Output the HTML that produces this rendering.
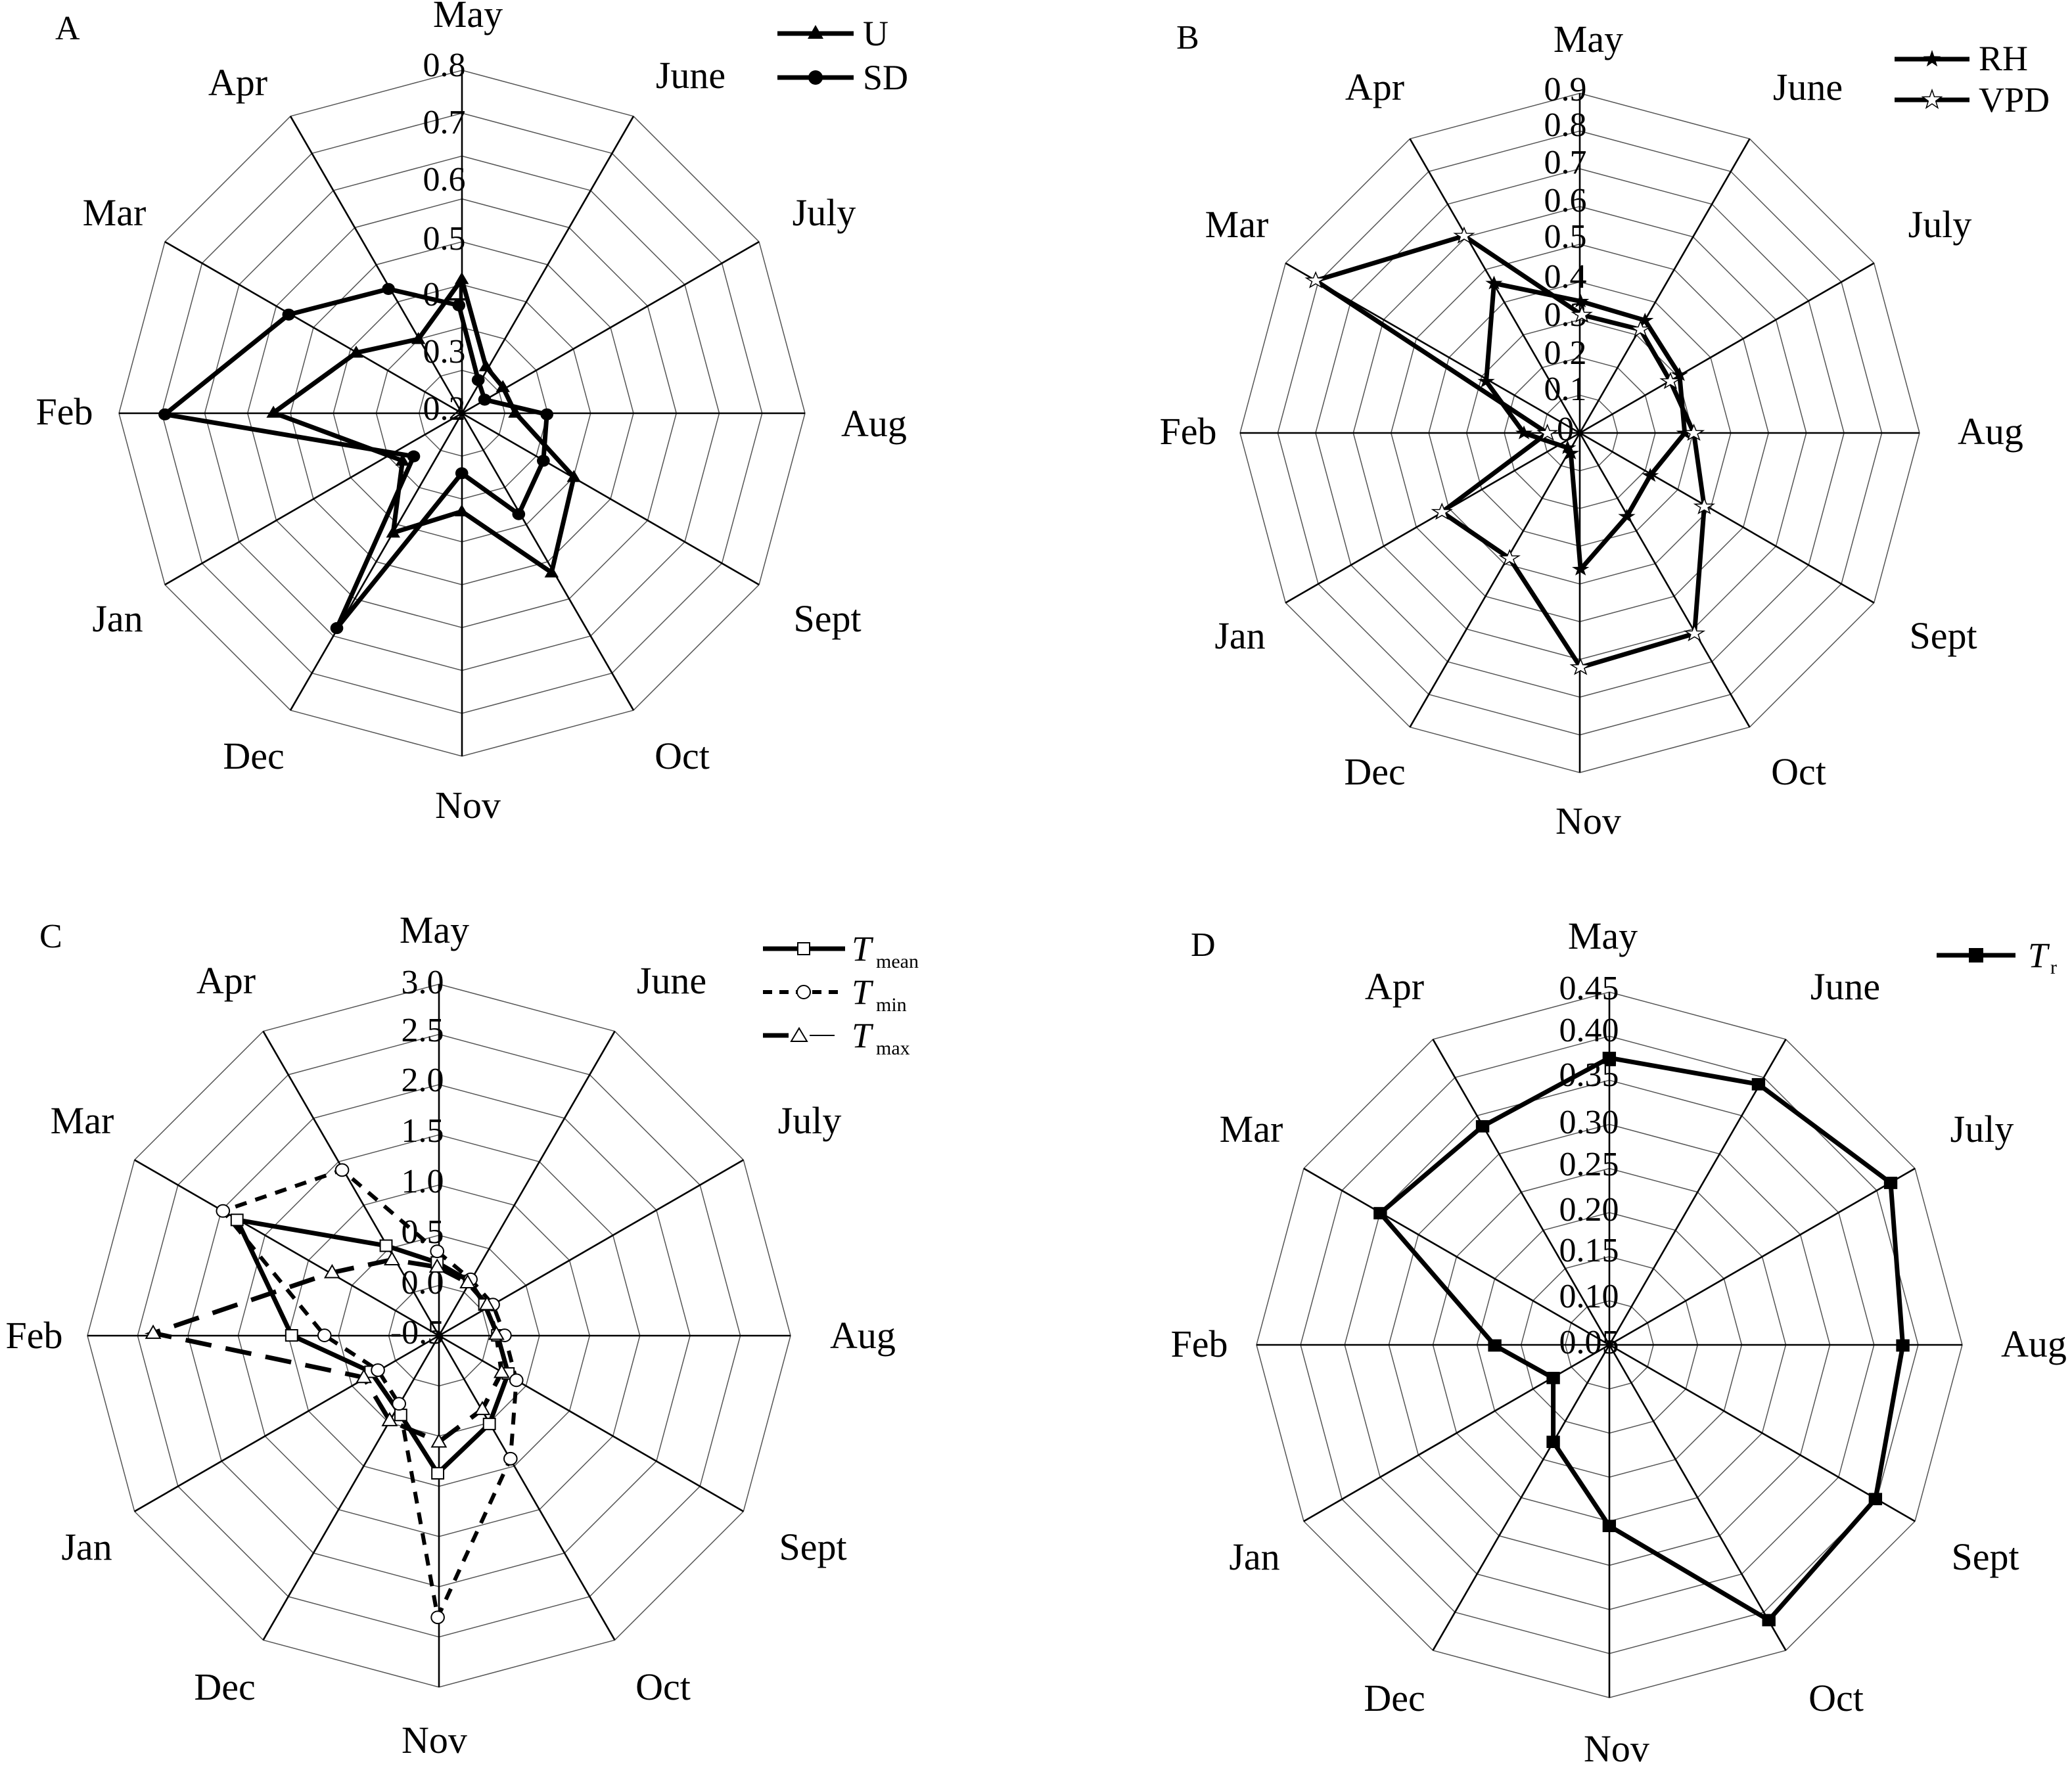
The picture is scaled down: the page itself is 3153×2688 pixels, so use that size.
<!DOCTYPE html>
<html><head><meta charset="utf-8"><style>
html,body{margin:0;padding:0;background:#fff;}
svg{display:block;}
text{font-family:"Liberation Serif",serif;fill:#000;}
.m{font-size:58px;text-anchor:middle;}
.s{font-size:52px;text-anchor:middle;fill:#222;}
.p{font-size:52px;}
.lg{font-size:54px;}
</style></head><body>
<svg width="3153" height="2688" viewBox="0 0 3153 2688" xmlns="http://www.w3.org/2000/svg">
<defs>
<polygon id="dod" points="0,-1 0.5,-0.866 0.866,-0.5 1,0 0.866,0.5 0.5,0.866 0,1 -0.5,0.866 -0.866,0.5 -1,0 -0.866,-0.5 -0.5,-0.866" fill="none" stroke="#555" stroke-width="1.5" vector-effect="non-scaling-stroke"/>
<g id="axes" stroke="#000" stroke-width="2.6" vector-effect="non-scaling-stroke">
<line x1="0" y1="-1" x2="0" y2="1" vector-effect="non-scaling-stroke"/>
<line x1="0.5" y1="-0.866" x2="-0.5" y2="0.866" vector-effect="non-scaling-stroke"/>
<line x1="0.866" y1="-0.5" x2="-0.866" y2="0.5" vector-effect="non-scaling-stroke"/>
<line x1="1" y1="0" x2="-1" y2="0" vector-effect="non-scaling-stroke"/>
<line x1="0.866" y1="0.5" x2="-0.866" y2="-0.5" vector-effect="non-scaling-stroke"/>
<line x1="0.5" y1="0.866" x2="-0.5" y2="-0.866" vector-effect="non-scaling-stroke"/>
</g>
<polygon id="tri" points="0,-13 12,9 -12,9" fill="#000"/>
<circle id="cir" r="11" fill="#000"/>
<polygon id="starF" points="0,-14 3.3,-4.5 13.3,-4.3 5.3,1.7 8.2,11.3 0,5.6 -8.2,11.3 -5.3,1.7 -13.3,-4.3 -3.3,-4.5" fill="#000"/>
<polygon id="starO" points="0,-15 3.5,-4.8 14.3,-4.6 5.7,1.8 8.8,12.1 0,6 -8.8,12.1 -5.7,1.8 -14.3,-4.6 -3.5,-4.8" fill="#fff" stroke="#000" stroke-width="1.5" vector-effect="non-scaling-stroke"/>
<rect id="sqO" x="-10" y="-10" width="20" height="20" fill="#fff" stroke="#000" stroke-width="2" vector-effect="non-scaling-stroke"/>
<circle id="cirO" r="11" fill="#fff" stroke="#000" stroke-width="2" vector-effect="non-scaling-stroke"/>
<polygon id="triO" points="0,-13 12,9 -12,9" fill="#fff" stroke="#000" stroke-width="2" vector-effect="non-scaling-stroke"/>
<rect id="sqF" x="-11" y="-11" width="22" height="22" fill="#000"/>
</defs>

<!-- ===== Panel A grid ===== -->
<g transform="translate(703,629)">
<use href="#dod" transform="scale(65.25)"/><use href="#dod" transform="scale(130.5)"/><use href="#dod" transform="scale(195.75)"/><use href="#dod" transform="scale(261)"/>
<use href="#dod" transform="scale(326.25)"/><use href="#dod" transform="scale(391.5)"/><use href="#dod" transform="scale(456.75)"/><use href="#dod" transform="scale(522)"/>
<use href="#axes" transform="scale(522)"/>
</g>
<!-- ===== Panel B grid ===== -->
<g transform="translate(2404,659)">
<use href="#dod" transform="scale(57.44)"/><use href="#dod" transform="scale(114.9)"/><use href="#dod" transform="scale(172.3)"/><use href="#dod" transform="scale(229.8)"/>
<use href="#dod" transform="scale(287.2)"/><use href="#dod" transform="scale(344.7)"/><use href="#dod" transform="scale(402.1)"/><use href="#dod" transform="scale(459.6)"/><use href="#dod" transform="scale(517)"/>
<use href="#axes" transform="scale(517)"/>
</g>
<!-- ===== Panel C grid ===== -->
<g transform="translate(668,2033)">
<use href="#dod" transform="scale(76.43)"/><use href="#dod" transform="scale(152.9)"/><use href="#dod" transform="scale(229.3)"/><use href="#dod" transform="scale(305.7)"/>
<use href="#dod" transform="scale(382.1)"/><use href="#dod" transform="scale(458.6)"/><use href="#dod" transform="scale(535)"/>
<use href="#axes" transform="scale(535)"/>
</g>
<!-- ===== Panel D grid ===== -->
<g transform="translate(2449,2047)">
<use href="#dod" transform="scale(67.1)"/><use href="#dod" transform="scale(134.3)"/><use href="#dod" transform="scale(201.4)"/><use href="#dod" transform="scale(268.5)"/>
<use href="#dod" transform="scale(335.6)"/><use href="#dod" transform="scale(402.8)"/><use href="#dod" transform="scale(469.9)"/><use href="#dod" transform="scale(537)"/>
<use href="#axes" transform="scale(537)"/>
</g>

<!-- ===== Scale labels ===== -->
<g class="s">
<text x="676" y="116">0.8</text><text x="676" y="203">0.7</text><text x="676" y="290">0.6</text><text x="676" y="380">0.5</text>
<text x="676" y="465">0.4</text><text x="676" y="552">0.3</text><text x="676" y="639">0.2</text>
<text x="2382" y="153">0.9</text><text x="2382" y="207">0.8</text><text x="2382" y="264">0.7</text><text x="2382" y="322">0.6</text>
<text x="2382" y="377">0.5</text><text x="2382" y="438">0.4</text><text x="2382" y="496">0.3</text><text x="2382" y="554">0.2</text>
<text x="2382" y="609">0.1</text><text x="2382" y="670">0</text>
<text x="643" y="1512">3.0</text><text x="643" y="1585">2.5</text><text x="643" y="1661">2.0</text><text x="643" y="1738">1.5</text>
<text x="643" y="1815">1.0</text><text x="643" y="1892">0.5</text><text x="643" y="1969">0.0</text><text x="635" y="2045">-0.5</text>
<text x="2418" y="1521">0.45</text><text x="2418" y="1585">0.40</text><text x="2418" y="1653">0.35</text><text x="2418" y="1725">0.30</text>
<text x="2418" y="1789">0.25</text><text x="2418" y="1858">0.20</text><text x="2418" y="1920">0.15</text><text x="2418" y="1990">0.10</text><text x="2418" y="2060">0.05</text>
</g>

<!-- ===== Month labels ===== -->
<g class="m">
<text x="712" y="41">May</text><text x="1051" y="134">June</text><text x="1254" y="343">July</text><text x="1330" y="664">Aug</text>
<text x="1259" y="961">Sept</text><text x="1038" y="1170">Oct</text><text x="712" y="1245">Nov</text><text x="386" y="1170">Dec</text>
<text x="179" y="961">Jan</text><text x="98" y="646">Feb</text><text x="174" y="343">Mar</text><text x="362" y="145">Apr</text>

<text x="2417" y="79">May</text><text x="2751" y="152">June</text><text x="2952" y="361">July</text><text x="3029" y="676">Aug</text>
<text x="2957" y="987">Sept</text><text x="2737" y="1194">Oct</text><text x="2417" y="1269">Nov</text><text x="2092" y="1194">Dec</text>
<text x="1887" y="987">Jan</text><text x="1808" y="676">Feb</text><text x="1882" y="361">Mar</text><text x="2092" y="152">Apr</text>

<text x="661" y="1435">May</text><text x="1022" y="1512">June</text><text x="1232" y="1725">July</text><text x="1313" y="2052">Aug</text>
<text x="1237" y="2374">Sept</text><text x="1009" y="2587">Oct</text><text x="661" y="2668">Nov</text><text x="342" y="2587">Dec</text>
<text x="132" y="2374">Jan</text><text x="52" y="2052">Feb</text><text x="125" y="1725">Mar</text><text x="344" y="1512">Apr</text>

<text x="2439" y="1444">May</text><text x="2808" y="1521">June</text><text x="3016" y="1738">July</text><text x="3095" y="2065">Aug</text>
<text x="3021" y="2389">Sept</text><text x="2794" y="2604">Oct</text><text x="2460" y="2681">Nov</text><text x="2122" y="2604">Dec</text>
<text x="1909" y="2389">Jan</text><text x="1825" y="2065">Feb</text><text x="1904" y="1738">Mar</text><text x="2122" y="1521">Apr</text>
</g>

<!-- panel letters -->
<text class="p" x="84" y="60">A</text>
<text class="p" x="1790" y="74">B</text>
<text class="p" x="60" y="1442">C</text>
<text class="p" x="1812" y="1455">D</text>

<!-- ===== Data A ===== -->
<g transform="translate(0,0) scale(0.8929,0.8299)">
<polyline points="787,512 828,672 857,710 878,757 978,875 940,1050 787,938 670,977 686,845 466,757 607,647 713,622 787,512" fill="none" stroke="#000" stroke-width="7" stroke-linejoin="round" vector-effect="non-scaling-stroke"/>
<polyline points="782,560 815,697 826,733 932,760 926,845 884,943 787,868 574,1152 705,837 281,760 492,577 662,530 782,560" fill="none" stroke="#000" stroke-width="7" stroke-linejoin="round" vector-effect="non-scaling-stroke"/>
<use href="#tri" x="787" y="512"/><use href="#tri" x="828" y="672"/><use href="#tri" x="857" y="710"/><use href="#tri" x="878" y="757"/>
<use href="#tri" x="978" y="875"/><use href="#tri" x="940" y="1050"/><use href="#tri" x="787" y="938"/><use href="#tri" x="670" y="977"/>
<use href="#tri" x="686" y="845"/><use href="#tri" x="466" y="757"/><use href="#tri" x="607" y="647"/><use href="#tri" x="713" y="622"/>
<use href="#cir" x="782" y="560"/><use href="#cir" x="815" y="697"/><use href="#cir" x="826" y="733"/><use href="#cir" x="932" y="760"/>
<use href="#cir" x="926" y="845"/><use href="#cir" x="884" y="943"/><use href="#cir" x="787" y="868"/><use href="#cir" x="574" y="1152"/>
<use href="#cir" x="705" y="837"/><use href="#cir" x="281" y="760"/><use href="#cir" x="492" y="577"/><use href="#cir" x="662" y="530"/>
</g>

<!-- ===== Data B ===== -->
<g transform="translate(1600,0) scale(0.9904,0.8292)">
<polyline points="813,553 912,588 965,688 973,795 920,873 884,948 813,1045 798,832 793,822 726,795 668,700 680,520 813,553" fill="none" stroke="#000" stroke-width="7" stroke-linejoin="round" vector-effect="non-scaling-stroke"/>
<polyline points="815,578 905,605 951,700 987,795 1003,930 988,1163 813,1225 704,1025 600,940 762,795 406,515 634,433 815,578" fill="none" stroke="#000" stroke-width="7" stroke-linejoin="round" vector-effect="non-scaling-stroke"/>
<use href="#starF" x="813" y="553"/><use href="#starF" x="912" y="588"/><use href="#starF" x="965" y="688"/><use href="#starF" x="973" y="795"/>
<use href="#starF" x="920" y="873"/><use href="#starF" x="884" y="948"/><use href="#starF" x="813" y="1045"/><use href="#starF" x="798" y="832"/>
<use href="#starF" x="793" y="822"/><use href="#starF" x="726" y="795"/><use href="#starF" x="668" y="700"/><use href="#starF" x="680" y="520"/>
<use href="#starO" x="815" y="578"/><use href="#starO" x="905" y="605"/><use href="#starO" x="951" y="700"/><use href="#starO" x="987" y="795"/>
<use href="#starO" x="1003" y="930"/><use href="#starO" x="988" y="1163"/><use href="#starO" x="813" y="1225"/><use href="#starO" x="704" y="1025"/>
<use href="#starO" x="600" y="940"/><use href="#starO" x="762" y="795"/><use href="#starO" x="406" y="515"/><use href="#starO" x="634" y="433"/>
</g>

<!-- ===== Data C ===== -->
<g transform="translate(0,1350) scale(0.8929,0.8532)">
<polyline points="745,670 800,703 826,745 848,800 866,868 834,958 746,1046 683,942 632,865 497,800 404,594 658,640 745,670" fill="none" stroke="#000" stroke-width="7" stroke-linejoin="round" vector-effect="non-scaling-stroke"/>
<polyline points="745,650 802,700 840,745 860,800 880,880 870,1020 746,1303 680,922 644,862 553,800 380,578 583,505 745,650" fill="none" stroke="#000" stroke-width="6" stroke-dasharray="18,14" vector-effect="non-scaling-stroke"/>
<polyline points="745,678 797,706 830,745 846,798 855,866 822,932 748,990 664,952 620,875 261,796 566,688 668,665 745,678" fill="none" stroke="#000" stroke-width="7" stroke-dasharray="40,22" vector-effect="non-scaling-stroke"/>
<use href="#sqO" x="745" y="670"/><use href="#sqO" x="800" y="703"/><use href="#sqO" x="826" y="745"/><use href="#sqO" x="848" y="800"/>
<use href="#sqO" x="866" y="868"/><use href="#sqO" x="834" y="958"/><use href="#sqO" x="746" y="1046"/><use href="#sqO" x="683" y="942"/>
<use href="#sqO" x="632" y="865"/><use href="#sqO" x="497" y="800"/><use href="#sqO" x="404" y="594"/><use href="#sqO" x="658" y="640"/>
<use href="#cirO" x="745" y="650"/><use href="#cirO" x="802" y="700"/><use href="#cirO" x="840" y="745"/><use href="#cirO" x="860" y="800"/>
<use href="#cirO" x="880" y="880"/><use href="#cirO" x="870" y="1020"/><use href="#cirO" x="746" y="1303"/><use href="#cirO" x="680" y="922"/>
<use href="#cirO" x="644" y="862"/><use href="#cirO" x="553" y="800"/><use href="#cirO" x="380" y="578"/><use href="#cirO" x="583" y="505"/>
<use href="#triO" x="745" y="678"/><use href="#triO" x="797" y="706"/><use href="#triO" x="830" y="745"/><use href="#triO" x="846" y="798"/>
<use href="#triO" x="855" y="866"/><use href="#triO" x="822" y="932"/><use href="#triO" x="748" y="990"/><use href="#triO" x="664" y="952"/>
<use href="#triO" x="620" y="875"/><use href="#triO" x="261" y="796"/><use href="#triO" x="566" y="688"/><use href="#triO" x="668" y="665"/>
</g>

<!-- ===== Data D ===== -->
<g transform="translate(1700,1350) scale(0.9268,0.8532)">
<polyline points="808,305 1053,352 1270,528 1290,818 1245,1092 1070,1308 808,1140 716,990 716,876 620,818 432,582 600,427 808,305" fill="none" stroke="#000" stroke-width="7" stroke-linejoin="round" vector-effect="non-scaling-stroke"/>
<use href="#sqF" x="808" y="305"/><use href="#sqF" x="1053" y="352"/><use href="#sqF" x="1270" y="528"/><use href="#sqF" x="1290" y="818"/>
<use href="#sqF" x="1245" y="1092"/><use href="#sqF" x="1070" y="1308"/><use href="#sqF" x="808" y="1140"/><use href="#sqF" x="716" y="990"/>
<use href="#sqF" x="716" y="876"/><use href="#sqF" x="620" y="818"/><use href="#sqF" x="432" y="582"/><use href="#sqF" x="600" y="427"/>
</g>

<!-- ===== Legends ===== -->
<g stroke="#000" stroke-width="7">
<line x1="1183" y1="51" x2="1299" y2="51"/><line x1="1183" y1="118" x2="1299" y2="118"/>
<line x1="2883" y1="90" x2="2997" y2="90"/><line x1="2883" y1="152" x2="2997" y2="152"/>
<line x1="1161" y1="1444" x2="1286" y2="1444"/>
<line x1="1161" y1="1510" x2="1286" y2="1510" stroke-width="6" stroke-dasharray="14,11"/>
<line x1="1161" y1="1576" x2="1200" y2="1576"/>
<line x1="1232" y1="1576" x2="1270" y2="1576" stroke-width="2"/>
<line x1="2947" y1="1454" x2="3067" y2="1454"/>
</g>
<polygon points="1241,38 1253,59 1229,59" fill="#000"/>
<circle cx="1241" cy="118" r="11" fill="#000"/>
<g transform="translate(2940,90)"><polygon points="0,-14 3.3,-4.5 13.3,-4.3 5.3,1.7 8.2,11.3 0,5.6 -8.2,11.3 -5.3,1.7 -13.3,-4.3 -3.3,-4.5" fill="#000"/></g>
<g transform="translate(2940,152)"><polygon points="0,-15 3.5,-4.8 14.3,-4.6 5.7,1.8 8.8,12.1 0,6 -8.8,12.1 -5.7,1.8 -14.3,-4.6 -3.5,-4.8" fill="#fff" stroke="#000" stroke-width="1.5"/></g>
<rect x="1214" y="1435" width="18" height="18" fill="#fff" stroke="#000" stroke-width="2"/>
<circle cx="1223" cy="1510" r="10" fill="#fff" stroke="#000" stroke-width="2"/>
<polygon points="1216,1565 1228,1585 1204,1585" fill="#fff" stroke="#000" stroke-width="2"/>
<rect x="2996" y="1443" width="22" height="22" fill="#000"/>

<text class="lg" x="1313" y="69">U</text>
<text class="lg" x="1313" y="136">SD</text>
<text class="lg" x="3011" y="107">RH</text>
<text class="lg" x="3011" y="170">VPD</text>
<text x="1296" y="1462" font-size="54" font-style="italic">T</text><text x="1333" y="1473" font-size="30">mean</text>
<text x="1296" y="1528" font-size="54" font-style="italic">T</text><text x="1333" y="1539" font-size="30">min</text>
<text x="1296" y="1594" font-size="54" font-style="italic">T</text><text x="1333" y="1605" font-size="30">max</text>
<text x="3086" y="1472" font-size="54" font-style="italic">T</text><text x="3120" y="1482" font-size="30">r</text>
</svg>
</body></html>
